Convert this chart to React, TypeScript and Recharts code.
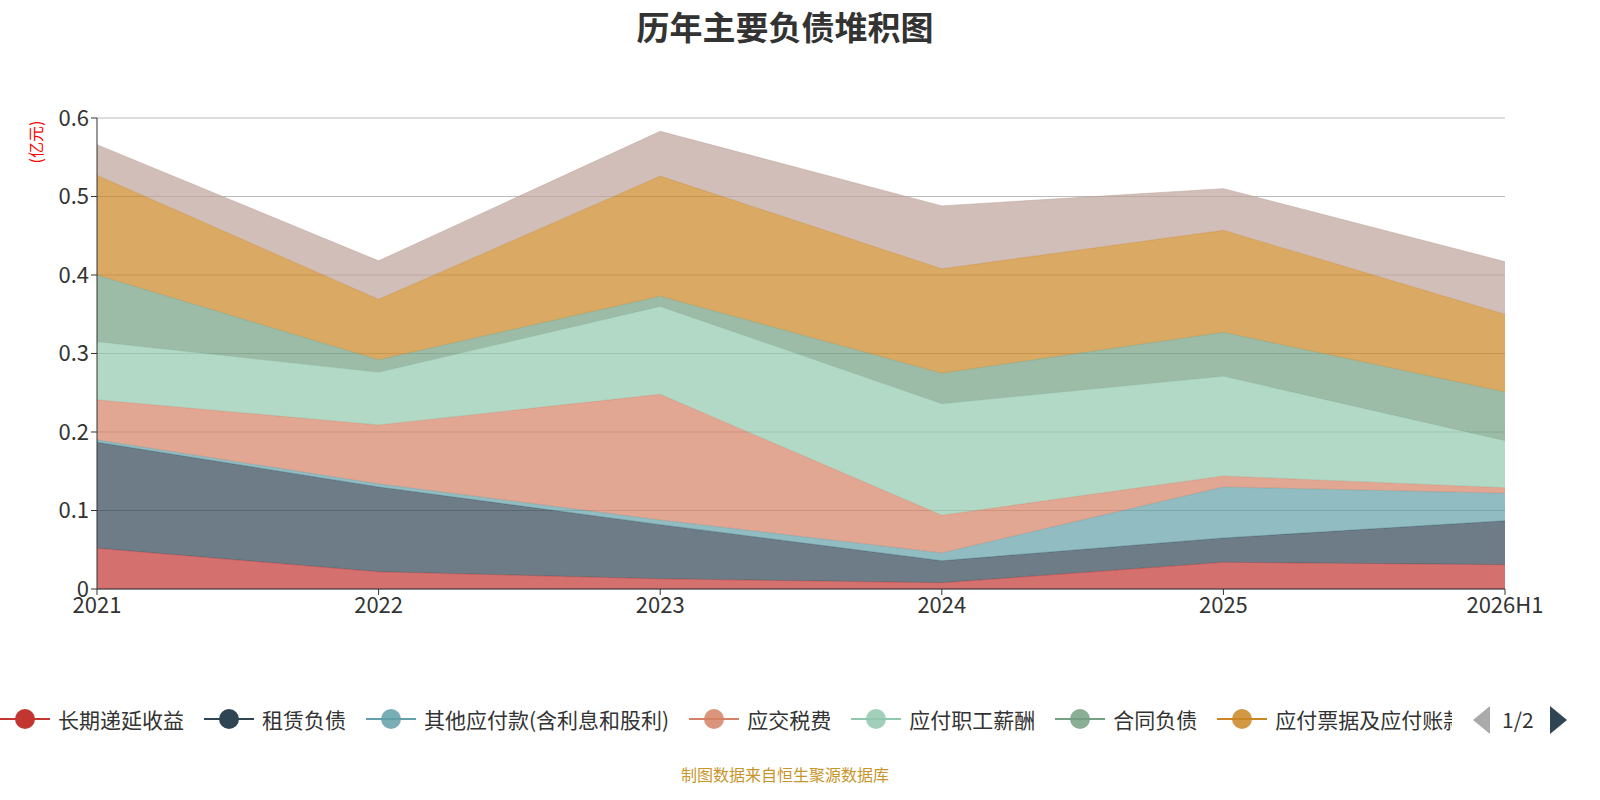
import React from 'react';
import { AreaChart, Area, XAxis, YAxis, CartesianGrid } from 'recharts';

const years = ['2021', '2022', '2023', '2024', '2025', '2026H1'];
const deferredIncome = [0.052, 0.022, 0.013, 0.008, 0.034, 0.031];
const leaseLiab = [0.135, 0.108, 0.069, 0.028, 0.031, 0.056];
const otherPayables = [0.003, 0.004, 0.006, 0.010, 0.065, 0.035];
const taxesPayable = [0.051, 0.075, 0.160, 0.048, 0.014, 0.007];
const staffPay = [0.074, 0.067, 0.112, 0.142, 0.127, 0.060];
const contractLiab = [0.085, 0.016, 0.013, 0.039, 0.056, 0.062];
const notesPayable = [0.127, 0.077, 0.153, 0.133, 0.130, 0.099];
const otherCurrent = [0.039, 0.049, 0.057, 0.080, 0.053, 0.067];
const yTicks = [0, 0.1, 0.2, 0.3, 0.4, 0.5, 0.6];

const series = [
  { key: 'a', name: '长期递延收益', color: '#c23531', values: deferredIncome },
  { key: 'b', name: '租赁负债', color: '#2f4554', values: leaseLiab },
  { key: 'c', name: '其他应付款(含利息和股利)', color: '#61a0a8', values: otherPayables },
  { key: 'd', name: '应交税费', color: '#d48265', values: taxesPayable },
  { key: 'e', name: '应付职工薪酬', color: '#91c7ae', values: staffPay },
  { key: 'f', name: '合同负债', color: '#749f83', values: contractLiab },
  { key: 'g', name: '应付票据及应付账款', color: '#ca8622', values: notesPayable },
  { key: 'h', name: '其他流动负债', color: '#bda29a', values: otherCurrent },
];

const data = years.map((y, i) => {
  const row: any = { name: y };
  series.forEach(s => { row[s.key] = s.values[i]; });
  return row;
});

const font = '"Microsoft YaHei", "Noto Sans CJK SC", sans-serif';

export default function App() {
  return (
    <div style={{ position: 'absolute', left: 0, top: 0, width: 1600, height: 800, background: '#fff', fontFamily: font, overflow: 'hidden' }}>
      <div style={{ position: 'absolute', top: 2, width: 1570, textAlign: 'center', fontSize: 33, fontWeight: 'bold', color: '#333' }}>历年主要负债堆积图</div>
      <div style={{ position: 'absolute', left: 10, top: 130, transform: 'rotate(-90deg)', color: 'red', fontSize: 16, width: 50, textAlign: 'center' }}>(亿元)</div>
      <AreaChart width={1600} height={640} data={data} margin={{ top: 118, right: 95, left: 37, bottom: 21 }}>
        <CartesianGrid horizontal vertical={false} stroke="#bbb" />
        <XAxis dataKey="name" stroke="#333" tick={{ fill: '#333', fontSize: 22 }} tickLine={{ stroke: '#333' }} interval={0} />
        <YAxis width={60} domain={[0, 0.6]} ticks={yTicks} stroke="#333" tick={{ fill: '#333', fontSize: 22 }}
          tickFormatter={(v: number) => (v === 0 ? '0' : String(v))} />
        {series.map(s => (
          <Area key={s.key} type="linear" dataKey={s.key} name={s.name} stackId="1" stroke={s.color} strokeOpacity={0.5} strokeWidth={1}
            fill={s.color} fillOpacity={0.7} isAnimationActive={false} dot={false} />
        ))}
      </AreaChart>
      <div style={{ position: 'absolute', top: 702, left: 0, width: 1452, height: 34, overflow: 'hidden', display: 'flex', alignItems: 'center', whiteSpace: 'nowrap', fontSize: 21, color: '#333' }}>
        {series.map(s => (
          <div key={s.key} style={{ display: 'flex', alignItems: 'center', marginRight: 20, flexShrink: 0 }}>
            <svg width={50} height={24}>
              <line x1={0} y1={12} x2={50} y2={12} stroke={s.color} strokeWidth={2} />
              <circle cx={25} cy={12} r={10} fill={s.color} opacity={s.key === 'a' || s.key === 'b' ? 1 : 0.85} />
            </svg>
            <span style={{ marginLeft: 8 }}>{s.name}</span>
          </div>
        ))}
      </div>
      <svg style={{ position: 'absolute', left: 1470, top: 704 }} width={100} height={32}>
        <polygon points="20,2 3,16 20,30" fill="#aaa" />
        <polygon points="80,2 97,16 80,30" fill="#2f4554" />
      </svg>
      <div style={{ position: 'absolute', left: 1502, top: 704, fontSize: 21, color: '#333' }}>1/2</div>
      <div style={{ position: 'absolute', top: 762, width: 1570, textAlign: 'center', fontSize: 16, color: '#c8952b' }}>制图数据来自恒生聚源数据库</div>
    </div>
  );
}
